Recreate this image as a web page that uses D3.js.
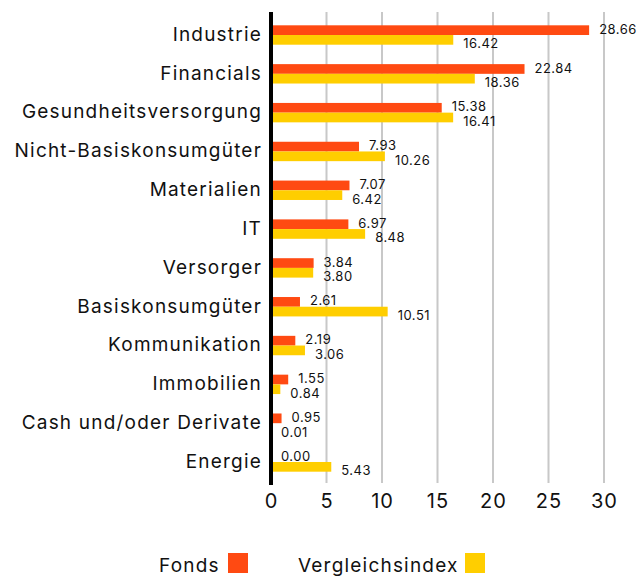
<!DOCTYPE html>
<html><head><meta charset="utf-8">
<script src="https://cdn.jsdelivr.net/npm/d3@7"></script>
<style>body{margin:0;background:#fff}svg{display:block}text{font-family:Inter,"Open Sans",sans-serif;fill:#111}</style>
</head><body><svg id="c" width="637" height="579"></svg>
<script>
const categories = ["Industrie","Financials","Gesundheitsversorgung","Nicht-Basiskonsumgüter","Materialien","IT","Versorger","Basiskonsumgüter","Kommunikation","Immobilien","Cash und/oder Derivate","Energie"];
const fonds = [28.66,22.84,15.38,7.93,7.07,6.97,3.84,2.61,2.19,1.55,0.95,0.00];
const index = [16.42,18.36,16.41,10.26,6.42,8.48,3.80,10.51,3.06,0.84,0.01,5.43];
const ticks = [0,5,10,15,20,25,30];
const seriesNames = ["Fonds","Vergleichsindex"];
const colors = ["#FF4A12","#FFCE00"];

const svg = d3.select("#c");
const x = d3.scaleLinear().domain([0,30]).range([271,604]);
const y = d3.scaleBand().domain(categories).range([15.6,481.4]).paddingInner(0.5).paddingOuter(0.25);
const plotTop = 12, plotBottom = 483;

// grid
svg.append("g").selectAll("line").data(ticks.filter(t=>t>0)).join("line")
  .attr("x1",d=>x(d)).attr("x2",d=>x(d)).attr("y1",plotTop).attr("y2",plotBottom)
  .attr("stroke","#c8c8c8").attr("stroke-width",2);

const rows = svg.append("g").selectAll("g").data(categories).join("g");
rows.each(function(c,i){
  const g = d3.select(this);
  const h = 9.7;
  const cy = y(c) + y.bandwidth()/2;
  g.append("rect").attr("x",x(0)).attr("y",cy-h).attr("width",x(fonds[i])-x(0)).attr("height",h).attr("fill",colors[0]);
  g.append("rect").attr("x",x(0)).attr("y",cy).attr("width",x(index[i])-x(0)).attr("height",h).attr("fill",colors[1]);
  g.append("text").attr("x",x(fonds[i])+10).attr("y",cy-h/2-1).attr("dy","0.35em").attr("font-size",13).attr("letter-spacing",0.5).text(fonds[i].toFixed(2));
  g.append("text").attr("x",x(index[i])+10).attr("y",cy+h/2+4).attr("dy","0.35em").attr("font-size",13).attr("letter-spacing",0.5).text(index[i].toFixed(2));
  g.append("text").attr("x",262).attr("y",cy-1).attr("dy","0.36em").attr("text-anchor","end").attr("font-size",19).attr("letter-spacing",1.2).text(c);
});

// axis line
svg.append("line").attr("x1",x(0)).attr("x2",x(0)).attr("y1",plotTop).attr("y2",plotBottom+2).attr("stroke","#000").attr("stroke-width",4);

// x tick labels
const xa = d3.axisBottom(x).tickValues(ticks).tickSize(0).tickPadding(0);
const ag = svg.append("g").attr("transform",`translate(0,${plotBottom})`).call(xa);
ag.select(".domain").remove();
ag.selectAll("text").attr("font-size",20).attr("dy","0").attr("y",25).attr("letter-spacing",1).attr("fill","#111").style("font-family","Inter,'Open Sans',sans-serif");

// legend
const leg = [{n:seriesNames[0],tx:159,sx:228},{n:seriesNames[1],tx:298,sx:465}];
leg.forEach((l,i)=>{
  svg.append("text").attr("x",l.tx).attr("y",572).attr("font-size",19).attr("letter-spacing",1.2).text(l.n);
  svg.append("rect").attr("x",l.sx).attr("y",553).attr("width",20).attr("height",20).attr("fill",colors[i]);
});
</script></body></html>
